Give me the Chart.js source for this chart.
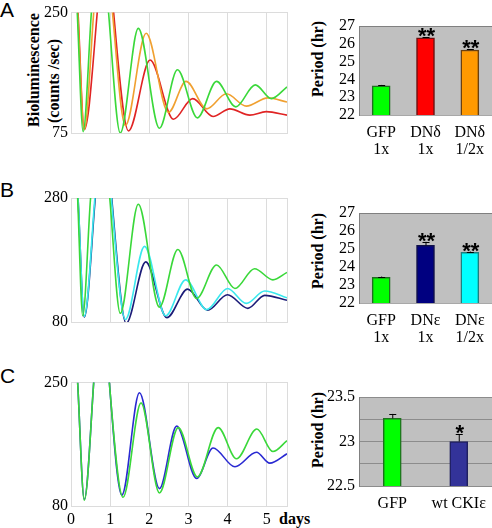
<!DOCTYPE html>
<html>
<head>
<meta charset="utf-8">
<script src="https://cdn.jsdelivr.net/npm/chart.js@4.4.0/dist/chart.umd.min.js"></script>
<style>
  body { margin: 0; background: #fff; }
  #fig { position: relative; width: 492px; height: 528px; overflow: hidden; font-family: "Liberation Serif", "Times New Roman", serif; }
  canvas { position: absolute; }
  .letter { position: absolute; font-family: "Liberation Sans", Arial, sans-serif; font-size: 21px; line-height: 21px; }
  .vt { position: absolute; font-weight: bold; font-size: 16px; line-height: 16px; white-space: nowrap; transform: translate(-50%, -50%) rotate(-90deg); }
  .days { position: absolute; font-weight: bold; font-size: 16px; line-height: 16px; }
</style>
</head>
<body>
<div id="fig">
  <div class="letter" style="left:0;top:-1px">A</div>
  <div class="letter" style="left:0;top:179px">B</div>
  <div class="letter" style="left:0;top:365px">C</div>
  <div class="vt" style="left:34px;top:70px">Bioluminescence</div>
  <div class="vt" style="left:54px;top:81px">(counts /sec)</div>
  <div class="vt" style="left:318px;top:59px">Period (hr)</div>
  <div class="vt" style="left:318px;top:251px">Period (hr)</div>
  <div class="vt" style="left:318px;top:430px">Period (hr)</div>
  <div class="days" style="left:279px;top:511px">days</div>
  <canvas id="lineA" width="292" height="150" style="left:0;top:0"></canvas>
  <canvas id="lineB" width="292" height="160" style="left:0;top:180px"></canvas>
  <canvas id="lineC" width="292" height="158" style="left:0;top:370px"></canvas>
  <canvas id="barA" width="202" height="165" style="left:290px;top:0"></canvas>
  <canvas id="barB" width="202" height="170" style="left:290px;top:185px"></canvas>
  <canvas id="barC" width="202" height="158" style="left:290px;top:370px"></canvas>
</div>
<script>
// ---- data ----
const dayTicks = [0, 1, 2, 3, 4, 5];

// panel A bioluminescence traces (days, counts/sec)
const aGreenX = [0.16, 0.31, 0.52, 0.74, 0.96, 1.26, 1.72, 2.26, 2.72, 3.23, 3.72, 4.21, 4.71, 5.12, 5.52];
const aGreenY = [250, 77, 250, 420, 250, 75, 227, 82, 167, 97, 150, 113, 145, 125, 142];
const aOrangeX = [0.17, 0.34, 0.58, 0.82, 1.06, 1.39, 1.92, 2.49, 2.94, 3.47, 3.97, 4.48, 5.03, 5.52];
const aOrangeY = [250, 80, 250, 420, 250, 86, 220, 105, 150, 110, 132, 114, 126, 120];
const aRedX = [0.18, 0.34, 0.67, 0.88, 1.09, 1.47, 2.02, 2.62, 3.11, 3.63, 4.06, 4.57, 4.99, 5.52];
const aRedY = [250, 80, 250, 420, 250, 78, 181, 95, 125, 99, 110, 101, 106, 101];

// panel B
const bGreenX = [0.17, 0.30, 0.50, 0.75, 0.99, 1.26, 1.72, 2.26, 2.73, 3.21, 3.72, 4.19, 4.69, 5.16, 5.52];
const bGreenY = [280, 90, 280, 450, 280, 94, 270, 104, 197, 118, 172, 134, 166, 148, 160];
const bCyanX = [0.18, 0.34, 0.61, 0.82, 1.03, 1.39, 1.88, 2.42, 2.93, 3.47, 4.0, 4.48, 4.95, 5.52];
const bCyanY = [280, 89, 280, 450, 280, 84, 202, 90, 148, 100, 134, 110, 130, 119];
const bNavyX = [0.18, 0.34, 0.62, 0.83, 1.04, 1.41, 1.91, 2.45, 2.98, 3.49, 4.0, 4.52, 4.95, 5.52];
const bNavyY = [280, 88, 280, 450, 280, 78, 177, 87, 133, 99, 124, 102, 123, 115];

// panel C
const cGreenX = [0.17, 0.34, 0.58, 0.78, 0.98, 1.33, 1.79, 2.26, 2.74, 3.23, 3.76, 4.23, 4.75, 5.16, 5.52];
const cGreenY = [250, 88, 250, 420, 250, 92, 222, 98, 188, 120, 188, 145, 186, 155, 170];
const cBlueX = [0.17, 0.34, 0.58, 0.78, 0.98, 1.30, 1.75, 2.26, 2.70, 3.21, 3.63, 4.19, 4.74, 5.08, 5.52];
const cBlueY = [250, 89, 250, 420, 250, 95, 236, 104, 190, 118, 160, 134, 154, 139, 152];

// period bar charts (hr)
const labelsA = [['GFP', '1x'], ['DNδ', '1x'], ['DNδ', '1/2x']];
const periodA = [23.64, 26.33, 25.65];
const errA = [0.05, 0.03, 0.04];
const starsA = ['', '**', '**'];

const labelsB = [['GFP', '1x'], ['DNε', '1x'], ['DNε', '1/2x']];
const periodB = [23.43, 25.2, 24.82];
const errB = [0.04, 0.2, 0.04];
const starsB = ['', '**', '**'];

const labelsC = ['GFP', 'wt CKIε'];
const periodC = [23.26, 23.0];
const errC = [0.05, 0.08];
const starsC = ['', '*'];

// ---- drawing ----
const serif = '"Liberation Serif", "Times New Roman", serif';
const pts = (xs, ys) => xs.map((x, i) => ({ x: x, y: ys[i] }));

function lineChart(id, series, yMin, yMax, padTop, xH, showX) {
  new Chart(document.getElementById(id), {
    type: 'line',
    data: {
      datasets: series.map(s => ({
        data: pts(s[0], s[1]),
        borderColor: s[2],
        borderWidth: 1.6,
        pointRadius: 0,
        cubicInterpolationMode: 'monotone',
        fill: false
      }))
    },
    options: {
      responsive: false,
      animation: false,
      layout: { padding: { top: padTop, right: 5, left: 0, bottom: 0 } },
      plugins: { legend: { display: false }, tooltip: { enabled: false } },
      scales: {
        x: {
          type: 'linear', min: 0, max: 5.52,
          afterBuildTicks: s => { s.ticks = dayTicks.map(v => ({ value: v })); },
          afterFit: s => { s.height = xH; },
          grid: { color: '#dcdcdc', drawTicks: false },
          border: { color: '#dcdcdc' },
          ticks: { display: showX, padding: 4, color: '#000', font: { family: serif, size: 16 } }
        },
        y: {
          min: yMin, max: yMax,
          afterBuildTicks: s => { s.ticks = [{ value: yMin }, { value: yMax }]; },
          afterFit: s => { s.width = 71; },
          grid: { color: '#dcdcdc', drawTicks: false },
          border: { color: '#dcdcdc' },
          ticks: { padding: 3, color: '#000', font: { family: serif, size: 16 } }
        },
        yr: {
          position: 'right', min: yMin, max: yMax,
          afterFit: s => { s.width = 0; },
          grid: { display: false },
          border: { color: '#dcdcdc' },
          ticks: { display: false }
        }
      }
    }
  });
}

lineChart('lineA', [[aGreenX, aGreenY, '#3ad83a'], [aOrangeX, aOrangeY, '#f0a030'], [aRedX, aRedY, '#e02424']], 75, 250, 11, 17, false);
lineChart('lineB', [[bGreenX, bGreenY, '#3ad83a'], [bCyanX, bCyanY, '#3ae8ee'], [bNavyX, bNavyY, '#1c1c78']], 80, 280, 18, 18, false);
lineChart('lineC', [[cGreenX, cGreenY, '#3ad83a'], [cBlueX, cBlueY, '#2a2ad2']], 80, 250, 12, 22, true);

const panelBg = {
  id: 'panelBg',
  beforeDraw(chart) {
    const a = chart.chartArea, ctx = chart.ctx;
    ctx.save();
    ctx.fillStyle = '#c0c0c0';
    ctx.fillRect(a.left, a.top, a.right - a.left, a.bottom - a.top);
    ctx.strokeStyle = '#808080';
    ctx.lineWidth = 1;
    ctx.beginPath();
    ctx.moveTo(a.left, a.top + 0.5);
    ctx.lineTo(a.right, a.top + 0.5);
    ctx.stroke();
    ctx.strokeStyle = '#a8a8a8';
    ctx.beginPath();
    ctx.moveTo(a.left, a.bottom + 0.5);
    ctx.lineTo(a.right, a.bottom + 0.5);
    ctx.stroke();
    ctx.restore();
  }
};

const errMarks = {
  id: 'errMarks',
  afterDatasetsDraw(chart, args, opts) {
    const ctx = chart.ctx, ys = chart.scales.y;
    const vals = chart.data.datasets[0].data;
    chart.getDatasetMeta(0).data.forEach((bar, i) => {
      const yErr = ys.getPixelForValue(vals[i] + opts.err[i]);
      ctx.save();
      ctx.strokeStyle = '#000';
      ctx.lineWidth = 1;
      ctx.beginPath();
      ctx.moveTo(bar.x + 0.5, bar.y);
      ctx.lineTo(bar.x + 0.5, yErr);
      ctx.moveTo(bar.x - 3, Math.round(yErr) + 0.5);
      ctx.lineTo(bar.x + 4, Math.round(yErr) + 0.5);
      ctx.stroke();
      if (opts.stars[i]) {
        ctx.fillStyle = '#000';
        ctx.font = 'bold 22px "Liberation Sans", Arial, sans-serif';
        ctx.textAlign = 'center';
        ctx.textBaseline = 'alphabetic';
        ctx.fillText(opts.stars[i], bar.x + 1, yErr + 6);
      }
      ctx.restore();
    });
  }
};

function barChart(id, labels, vals, err, stars, fills, edges, yMin, yMax, step, padTop, xH, showGrid) {
  new Chart(document.getElementById(id), {
    type: 'bar',
    data: {
      labels: labels,
      datasets: [{ data: vals, backgroundColor: fills, borderColor: edges, borderWidth: 1.5, borderSkipped: false, barThickness: 18 }]
    },
    options: {
      responsive: false,
      animation: false,
      layout: { padding: { top: padTop, right: 0, left: 0, bottom: 0 } },
      plugins: { legend: { display: false }, tooltip: { enabled: false }, errMarks: { err: err, stars: stars } },
      scales: {
        x: {
          grid: { display: false },
          border: { display: false },
          afterFit: s => { s.height = xH; },
          ticks: { color: '#000', padding: 1, maxRotation: 0, autoSkip: false, font: { family: serif, size: 16, lineHeight: 1.08 } }
        },
        y: {
          min: yMin, max: yMax,
          afterFit: s => { s.width = 69; },
          grid: { display: showGrid, color: '#8c8c8c', drawTicks: false },
          border: { color: '#808080' },
          ticks: {
            stepSize: step, padding: 4, autoSkip: false, color: '#000', font: { family: serif, size: 16 },
            callback: v => (Math.abs(v * 2 - Math.round(v * 2)) < 1e-6 ? String(v) : '')
          }
        }
      }
    },
    plugins: [panelBg, errMarks]
  });
}

barChart('barA', labelsA, periodA, errA, starsA,
  ['#00ff00', '#ff0000', '#ff9900'], ['#1f6f1f', '#6a1010', '#6a4010'], 22, 27, 1, 26, 50, false);
barChart('barB', labelsB, periodB, errB, starsB,
  ['#00ff00', '#000080', '#00ffff'], ['#1f6f1f', '#10104a', '#1f7f7f'], 22, 27, 1, 28, 52, false);
barChart('barC', labelsC, periodC, errC, starsC,
  ['#00ff00', '#333399'], ['#1f6f1f', '#202060'], 22.5, 23.5, 0.25, 27, 42, true);
</script>
</body>
</html>
